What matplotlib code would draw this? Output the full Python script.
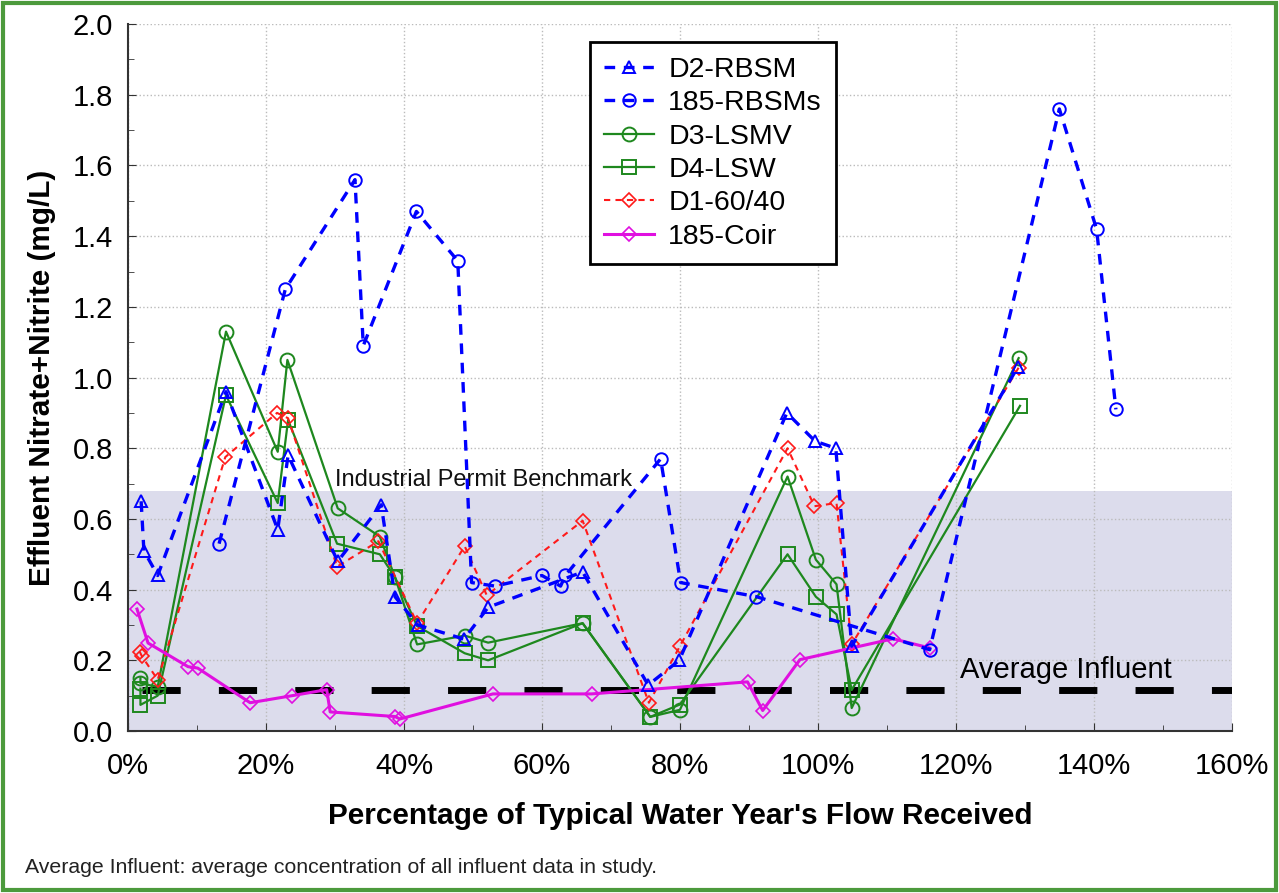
import matplotlib.pyplot as plt
from matplotlib.patches import Rectangle
from matplotlib.ticker import MultipleLocator, FuncFormatter

plt.rcParams['font.family'] = ['Liberation Sans', 'DejaVu Sans']

# --- data (x = % of typical water year's flow, y = mg/L)
d2_x = [1.9, 2.3, 4.3, 14.2, 21.7, 23.2, 30.4, 36.7, 38.7, 42.0, 48.7, 52.2, 65.9, 75.4, 79.9, 95.5, 99.6, 102.6, 104.9, 129.0]
d2_y = [0.65, 0.51, 0.44, 0.96, 0.57, 0.78, 0.48, 0.64, 0.38, 0.30, 0.26, 0.35, 0.45, 0.13, 0.20, 0.90, 0.82, 0.80, 0.24, 1.03]

rbsms_x = [13.2, 22.8, 32.9, 34.1, 41.8, 47.8, 49.8, 53.2, 60.0, 62.7, 63.4, 77.2, 80.1, 91.1, 116.2, 135.0, 140.4, 143.2]
rbsms_y = [0.53, 1.25, 1.56, 1.09, 1.47, 1.33, 0.42, 0.41, 0.44, 0.41, 0.44, 0.77, 0.42, 0.38, 0.23, 1.76, 1.42, 0.91]

d3_x = [1.8, 1.8, 4.3, 14.2, 21.7, 23.1, 30.4, 36.5, 38.7, 41.9, 48.8, 52.2, 65.9, 75.7, 80.0, 95.6, 99.7, 102.7, 104.9, 129.1]
d3_y = [0.15, 0.135, 0.125, 1.13, 0.79, 1.05, 0.63, 0.55, 0.435, 0.245, 0.27, 0.25, 0.305, 0.04, 0.06, 0.72, 0.485, 0.415, 0.065, 1.055]

d4_x = [1.8, 1.8, 4.3, 14.2, 21.7, 23.2, 30.3, 36.5, 38.7, 41.9, 48.8, 52.2, 65.9, 75.7, 80.0, 95.6, 99.7, 102.7, 104.9, 129.3]
d4_y = [0.12, 0.074, 0.10, 0.95, 0.645, 0.88, 0.53, 0.50, 0.435, 0.297, 0.22, 0.20, 0.305, 0.04, 0.075, 0.50, 0.38, 0.33, 0.116, 0.92]

d1_x = [1.7, 2.0, 4.3, 14.1, 21.6, 23.2, 30.3, 36.3, 41.9, 48.8, 52.0, 65.9, 75.5, 80.0, 95.6, 99.5, 102.7, 104.9, 129.1]
d1_y = [0.224, 0.212, 0.145, 0.775, 0.90, 0.885, 0.465, 0.537, 0.305, 0.523, 0.384, 0.595, 0.08, 0.24, 0.80, 0.636, 0.645, 0.245, 1.028]

coir_x = [1.3, 2.9, 8.7, 10.1, 17.7, 23.8, 28.8, 29.3, 38.7, 39.4, 52.9, 67.2, 89.8, 92.0, 97.4, 110.9, 116.2]
coir_y = [0.345, 0.249, 0.182, 0.178, 0.08, 0.10, 0.117, 0.054, 0.041, 0.034, 0.105, 0.105, 0.139, 0.058, 0.202, 0.261, 0.235]

influent_avg = 0.116
benchmark = 0.68

fig = plt.figure(figsize=(12.79, 8.93), dpi=100)
ax = fig.add_axes([0.1001, 0.1814, 0.8630, 0.7916])

ax.add_patch(Rectangle((0, 0), 160, benchmark, facecolor='#dcdcec', edgecolor='none', zorder=0))
ax.text(30, benchmark + 0.012, 'Industrial Permit Benchmark', fontsize=17, color='#111111', zorder=1)

ax.plot([2, 160], [influent_avg, influent_avg], color='black', lw=5, dashes=(5.5, 5.5), zorder=2)
ax.text(120.6, 0.15, 'Average Influent', fontsize=21, color='black', zorder=6)

ax.plot(d2_x, d2_y, color='#0000ff', lw=2.4, dashes=(3.2, 2.6), marker='^', ms=9, mfc='none',
        mew=1.4, label='D2-RBSM', zorder=4)
ax.plot(rbsms_x, rbsms_y, color='#0000ff', lw=2.4, dashes=(3.2, 2.6), marker='o', ms=9, mfc='none',
        mew=1.4, label='185-RBSMs', zorder=4)
ax.plot(d3_x, d3_y, color='#1e881e', lw=1.6, marker='o', ms=10, mfc='none', mew=1.4,
        label='D3-LSMV', zorder=3)
ax.plot(d4_x, d4_y, color='#1e881e', lw=1.6, marker='s', ms=10, mfc='none', mew=1.4,
        label='D4-LSW', zorder=3)
ax.plot(d1_x, d1_y, color='#ff1a1a', lw=1.5, dashes=(3, 2.5), marker='D', ms=7.5, mfc='none',
        mew=1.2, label='D1-60/40', zorder=3)
ax.plot(coir_x, coir_y, color='#e010e0', lw=2.2, marker='D', ms=7.5, mfc='none', mew=1.2,
        label='185-Coir', zorder=3)

ax.set_xlim(0, 160)
ax.set_ylim(0, 2.0)
ax.xaxis.set_major_locator(MultipleLocator(20))
ax.xaxis.set_minor_locator(MultipleLocator(10))
ax.yaxis.set_major_locator(MultipleLocator(0.2))
ax.yaxis.set_minor_locator(MultipleLocator(0.1))
ax.xaxis.set_major_formatter(FuncFormatter(lambda v, p: f'{v:.0f}%'))
ax.yaxis.set_major_formatter(FuncFormatter(lambda v, p: f'{v:.1f}'))
ax.tick_params(which='both', direction='in', labelsize=21, color='#333333')
ax.tick_params(which='major', length=6)
ax.tick_params(axis='x', which='major', pad=15)
ax.tick_params(axis='y', which='major', pad=11)
ax.tick_params(which='minor', length=4)
ax.grid(True, which='major', color='#bbbbbb', ls=':', lw=1)
for s in ['top', 'right']:
    ax.spines[s].set_visible(False)
for s in ['left', 'bottom']:
    ax.spines[s].set_linewidth(1.5)
    ax.spines[s].set_color('#333333')

ax.set_xlabel("Percentage of Typical Water Year's Flow Received", fontsize=21.4, fontweight='bold', labelpad=16)
ax.set_ylabel('Effluent Nitrate+Nitrite (mg/L)', fontsize=21.4, fontweight='bold',
              family=['Liberation Sans Narrow', 'Liberation Sans'], labelpad=12)

leg = ax.legend(loc='upper left', bbox_to_anchor=(0.4185, 0.974), fontsize=20.5, handlelength=1.75,
                fancybox=False, edgecolor='black', framealpha=1, borderpad=0.5, labelspacing=0.26,
                handletextpad=0.5, borderaxespad=0)
leg.get_frame().set_linewidth(2)

fig.text(25 / 1279, 1 - 873 / 893, 'Average Influent: average concentration of all influent data in study.',
         fontsize=15.3, color='#222222')

fig.patches.append(Rectangle((0.002, 0.003), 0.996, 0.994, transform=fig.transFigure, fill=False,
                             edgecolor='#4c9a3c', linewidth=3))

fig.savefig('out.png', dpi=100)
